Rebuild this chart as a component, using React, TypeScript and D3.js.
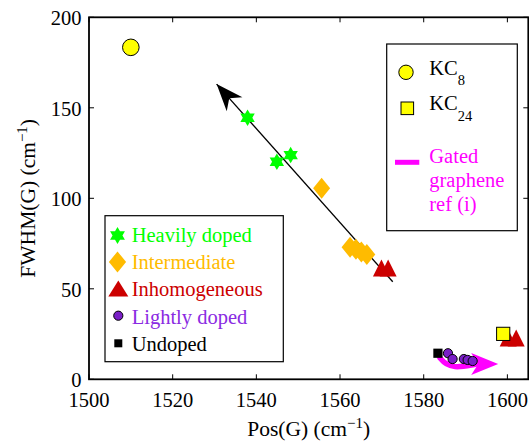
import React from "react";
import * as d3 from "d3";

// ---- data ----
const xTicks = [1500, 1520, 1540, 1560, 1580, 1600];
const yTicks = [0, 50, 100, 150, 200];

const kc8X = [1510.0];
const kc8Y = [183.4];
const kc24X = [1599.0];
const kc24Y = [25.1];

const heavilyX = [1537.9, 1544.9, 1548.2];
const heavilyY = [144.5, 120.2, 123.9];

const intermediateX = [1555.6, 1562.4, 1563.8, 1565.1, 1566.4];
const intermediateY = [105.5, 73.0, 71.8, 70.4, 69.0];

const inhomX = [1569.9, 1571.5, 1600.2, 1602.1];
const inhomY = [61.5, 61.5, 22.8, 22.8];

const lightlyX = [1585.8, 1586.9, 1589.6, 1590.5, 1591.7];
const lightlyY = [14.4, 11.2, 11.2, 10.7, 10.1];

const undopedX = [1583.4];
const undopedY = [14.4];

// black doping-trend arrow (tail -> tip)
const trendX = [1572.6, 1530.5];
const trendY = [53.9, 163.1];

// gated graphene reference (curved band, then arrow tip)
const gatedX = [1583.9, 1585.4, 1587.5, 1589.9, 1592.6];
const gatedY = [11.8, 8.6, 7.0, 7.3, 8.4];
const gatedTipX = 1597.8;
const gatedTipY = 8.4;

const W = 529;
const H = 443;
const M = { left: 89, top: 17.3, right: 528.3, bottom: 379.3 };

const FONT = "'Liberation Serif', 'Times New Roman', serif";
const GREEN = "#00FF00";
const ORANGE = "#FFBB00";
const RED = "#CC0000";
const PURPLE = "#7A1FC7";
const PURPLE_TXT = "#8A2BE2";
const MAGENTA = "#FF00FF";
const YELLOW = "#FFFF00";

const x = d3.scaleLinear().domain([1500, 1605]).range([M.left, M.right]);
const y = d3.scaleLinear().domain([0, 200]).range([M.bottom, M.top]);

function hexagram(cx: number, cy: number, R: number) {
  const pts: [number, number][] = [];
  for (let i = 0; i < 12; i++) {
    const a = (-90 + i * 30) * (Math.PI / 180);
    const r = i % 2 === 0 ? R : R / Math.sqrt(3);
    pts.push([cx + r * Math.cos(a), cy + r * Math.sin(a)]);
  }
  return "M" + pts.map((p) => p.join(",")).join("L") + "Z";
}
function diamond(cx: number, cy: number, hw: number, hh: number) {
  return `M${cx},${cy - hh}L${cx + hw},${cy}L${cx},${cy + hh}L${cx - hw},${cy}Z`;
}
function triangle(cx: number, cy: number, hw: number, h: number) {
  return `M${cx},${cy - h / 2}L${cx + hw},${cy + h / 2}L${cx - hw},${cy + h / 2}Z`;
}
// matlab-like arrow head with notched back
function arrowHead(tx: number, ty: number, fx: number, fy: number, len: number, hw: number, notch: number) {
  const dx = tx - fx;
  const dy = ty - fy;
  const d = Math.hypot(dx, dy);
  const ux = dx / d;
  const uy = dy / d;
  const px = -uy;
  const py = ux;
  const bx = tx - ux * len;
  const by = ty - uy * len;
  const nx = tx - ux * notch;
  const ny = ty - uy * notch;
  return `M${tx},${ty}L${bx + px * hw},${by + py * hw}L${nx},${ny}L${bx - px * hw},${by - py * hw}Z`;
}

export default function App() {
  const gatedLine = d3
    .line<number>()
    .x((_, i) => x(gatedX[i]))
    .y((_, i) => y(gatedY[i]))
    .curve(d3.curveCatmullRom.alpha(0.5))(gatedX);

  const lastG = gatedX.length - 1;

  return (
    <svg width={W} height={H} style={{ position: "absolute", left: 0, top: 0, background: "#fff" }} fontFamily={FONT}>
      <rect x={0} y={0} width={W} height={H} fill="#fff" />
      {/* trend arrow */}
      <line
        x1={x(trendX[0])}
        y1={y(trendY[0])}
        x2={x(trendX[1])}
        y2={y(trendY[1])}
        stroke="#000"
        strokeWidth={1.3}
      />
      <path d={arrowHead(x(trendX[1]), y(trendY[1]), x(trendX[0]), y(trendY[0]), 27, 10.5, 19)} fill="#000" />

      {/* KC8 */}
      {kc8X.map((v, i) => (
        <circle key={"k8" + i} cx={x(v)} cy={y(kc8Y[i])} r={8.3} fill={YELLOW} stroke="#000" strokeWidth={1} />
      ))}

      {/* Heavily doped */}
      {heavilyX.map((v, i) => (
        <path key={"hd" + i} d={hexagram(x(v), y(heavilyY[i]), 8.3)} fill={GREEN} />
      ))}
      {/* Intermediate */}
      {intermediateX.map((v, i) => (
        <path key={"im" + i} d={diamond(x(v), y(intermediateY[i]), 8.5, 10.5)} fill={ORANGE} />
      ))}

      {/* gated graphene */}
      <path d={gatedLine || ""} fill="none" stroke={MAGENTA} strokeWidth={5.5} strokeLinecap="round" />
      <path
        d={arrowHead(x(gatedTipX), y(gatedTipY), x(gatedX[lastG - 1]), y(gatedY[lastG]), 27, 11, 20)}
        fill={MAGENTA}
      />

      {/* Undoped */}
      {undopedX.map((v, i) => (
        <rect key={"ud" + i} x={x(v) - 4.6} y={y(undopedY[i]) - 4.6} width={9.2} height={9.2} fill="#000" />
      ))}
      {/* Lightly doped */}
      {lightlyX.map((v, i) => (
        <circle key={"ld" + i} cx={x(v)} cy={y(lightlyY[i])} r={4.6} fill={PURPLE} stroke="#000" strokeWidth={1} />
      ))}

      {/* Inhomogeneous */}
      {inhomX.map((v, i) => (
        <path key={"ih" + i} d={triangle(x(v), y(inhomY[i]), 8.5, 17)} fill={RED} />
      ))}
      {/* KC24 */}
      {kc24X.map((v, i) => (
        <rect key={"k24" + i} x={x(v) - 6.6} y={y(kc24Y[i]) - 6.6} width={13.2} height={13.2} fill={YELLOW} stroke="#000" strokeWidth={1} />
      ))}

      {/* axes box */}
      <rect x={M.left} y={M.top} width={M.right - M.left} height={M.bottom - M.top} fill="none" stroke="#000" strokeWidth={1.8} />
      {xTicks.map((t) => (
        <g key={"xt" + t}>
          <line x1={x(t)} x2={x(t)} y1={M.bottom} y2={M.bottom - 5} stroke="#000" strokeWidth={1} />
          <line x1={x(t)} x2={x(t)} y1={M.top} y2={M.top + 5} stroke="#000" strokeWidth={1} />
          <text x={x(t)} y={407} textAnchor="middle" fontSize={20.5} fill="#000">
            {t}
          </text>
        </g>
      ))}
      {yTicks.map((t) => (
        <g key={"yt" + t}>
          <line x1={M.left} x2={M.left + 5} y1={y(t)} y2={y(t)} stroke="#000" strokeWidth={1} />
          <line x1={M.right} x2={M.right - 5} y1={y(t)} y2={y(t)} stroke="#000" strokeWidth={1} />
          <text x={81.5} y={y(t)} dy="0.38em" textAnchor="end" fontSize={20.5} fill="#000">
            {t}
          </text>
        </g>
      ))}

      {/* axis labels */}
      <text x={(M.left + M.right) / 2} y={436} textAnchor="middle" fontSize={21.5} fill="#000">
        Pos(G) (cm
        <tspan fontSize={15} dy={-8}>
          −1
        </tspan>
        <tspan dy={8}>)</tspan>
      </text>
      <text transform={`translate(35,${(M.top + M.bottom) / 2}) rotate(-90)`} textAnchor="middle" fontSize={21.5} fill="#000">
        FWHM(G) (cm
        <tspan fontSize={15} dy={-8}>
          −1
        </tspan>
        <tspan dy={8}>)</tspan>
      </text>

      {/* right legend */}
      <rect x={386.7} y={44} width={130.6} height={186.7} fill="#fff" stroke="#000" strokeWidth={1.2} />
      <circle cx={406} cy={72.3} r={7.2} fill={YELLOW} stroke="#000" strokeWidth={1} />
      <text x={429.3} y={75} fontSize={20.5} fill="#000">
        KC
        <tspan fontSize={14.5} dy={10}>
          8
        </tspan>
      </text>
      <rect x={401} y={102} width={12.6} height={12.6} fill={YELLOW} stroke="#000" strokeWidth={1} />
      <text x={429.3} y={110} fontSize={20.5} fill="#000">
        KC
        <tspan fontSize={14.5} dy={11}>
          24
        </tspan>
      </text>
      <line x1={395} x2={419.3} y1={162.3} y2={162.3} stroke={MAGENTA} strokeWidth={5} />
      <text x={429.3} y={163.3} fontSize={20.5} fill={MAGENTA}>
        Gated
      </text>
      <text x={429.3} y={187.3} fontSize={20.5} fill={MAGENTA}>
        graphene
      </text>
      <text x={429.3} y={210.7} fontSize={20.5} fill={MAGENTA}>
        ref (i)
      </text>

      {/* left legend */}
      <rect x={105} y={215.7} width={178.3} height={146} fill="#fff" stroke="#000" strokeWidth={1.2} />
      <path d={hexagram(117.5, 235.5, 8.6)} fill={GREEN} />
      <text x={131.7} y={242} fontSize={20.5} fill={GREEN}>
        Heavily doped
      </text>
      <path d={diamond(117.5, 262, 8.6, 10.6)} fill={ORANGE} />
      <text x={131.7} y={269} fontSize={20.5} fill={ORANGE}>
        Intermediate
      </text>
      <path d={triangle(118.3, 288.5, 10, 16)} fill={RED} />
      <text x={131.7} y={296} fontSize={20.5} fill={RED}>
        Inhomogeneous
      </text>
      <circle cx={118.3} cy={315.7} r={4.6} fill={PURPLE} stroke="#000" strokeWidth={1} />
      <text x={131.7} y={323.5} fontSize={20.5} fill={PURPLE_TXT}>
        Lightly doped
      </text>
      <rect x={114.3} y={339.3} width={8} height={8} fill="#000" />
      <text x={131.7} y={350.5} fontSize={20.5} fill="#000">
        Undoped
      </text>
    </svg>
  );
}
